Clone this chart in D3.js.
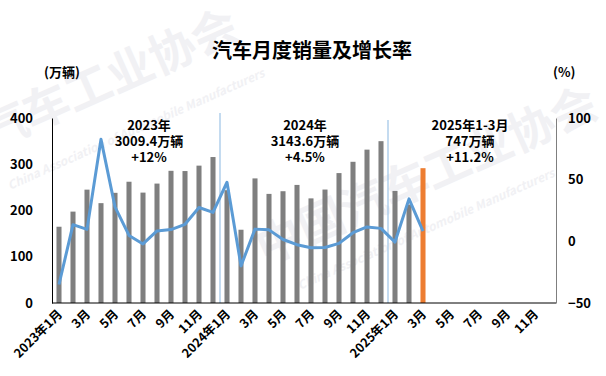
<!DOCTYPE html>
<html><head><meta charset="utf-8">
<script src="https://cdn.jsdelivr.net/npm/d3@7"></script>
<style>body{margin:0;background:#fff;}svg{display:block;font-family:"Noto Sans CJK SC","Noto Sans",sans-serif;}</style>
</head><body>
<svg id="c" width="606" height="376"></svg>
<script>
const months = [];
for (const y of [2023, 2024, 2025]) for (let m = 1; m <= 12; m++) months.push(m === 1 ? `${y}年1月` : `${m}月`);
const sales = [164.9,197.6,245.1,215.9,238.2,262.2,238.7,258.2,285.8,285.3,297.0,315.6,
               243.9,158.4,269.4,235.9,241.7,255.3,226.2,245.3,280.9,305.3,331.6,349.9,
               242.3,212.9,291.5];
const growth = [-35,13.5,9.7,82.7,27.9,4.8,-2.1,8.4,9.5,13.8,27.4,23.5,
                47.9,-19.9,9.9,9.3,1.5,-2.7,-5.2,-5.0,-1.7,7.0,11.7,10.5,
                -0.6,34.4,8.2];
const leftTicks = [0,100,200,300,400];
const rightTicks = [-50,0,50,100];
const annotations = [
  {x: 149, lines: ["2023年","3009.4万辆","+12%"]},
  {x: 305, lines: ["2024年","3143.6万辆","+4.5%"]},
  {x: 470, lines: ["2025年1-3月","747万辆","+11.2%"]}
];
const dividers = [12, 24];

const svg = d3.select("#c");
const L = 52, R = 556, T = 118, B = 303;
const x = d3.scaleBand().domain(d3.range(36)).range([L, R]).paddingInner(0.64).paddingOuter(0.32);
const yL = d3.scaleLinear().domain([0, 400]).range([B, T]);
const yR = d3.scaleLinear().domain([-50, 100]).range([B, T]);
const cx = i => x(i) + x.bandwidth() / 2;

// watermark
const wm = svg.append("g").attr("fill", "#f1f1f4").attr("font-weight", "bold");
wm.append("text").attr("transform", "translate(-10,150) rotate(-24)").attr("font-size", 46).text("汽车工业协会");
wm.append("text").attr("transform", "translate(10,190) rotate(-24)").attr("font-size", 12).attr("font-style","italic").text("China Association of Automobile Manufacturers");
wm.append("text").attr("transform", "translate(265,265) rotate(-24)").attr("font-size", 46).text("中国汽车工业协会");
wm.append("text").attr("transform", "translate(300,290) rotate(-24)").attr("font-size", 12).attr("font-style","italic").text("China Association of Automobile Manufacturers");

// title
svg.append("text").attr("x", 312).attr("y", 58).attr("text-anchor", "middle")
  .attr("font-size", 20).attr("font-weight", "bold").attr("fill", "#000").text("汽车月度销量及增长率");
svg.append("text").attr("x", 44).attr("y", 77).attr("font-size", 13).attr("font-weight", "bold").text("(万辆)");
svg.append("text").attr("x", 553).attr("y", 77).attr("font-size", 13).attr("font-weight", "bold").text("(%)");

// bars
svg.append("g").selectAll("rect").data(sales).join("rect")
  .attr("x", (d, i) => x(i)).attr("width", x.bandwidth())
  .attr("y", d => yL(d)).attr("height", d => yL(0) - yL(d))
  .attr("fill", (d, i) => i === sales.length - 1 ? "#ED7D31" : "#7F7F7F");

// dividers
svg.append("g").selectAll("line").data(dividers).join("line")
  .attr("x1", d => x(d) - x.step() * 0.32).attr("x2", d => x(d) - x.step() * 0.32)
  .attr("y1", (d, i) => i === 0 ? 113 : 120).attr("y2", B)
  .attr("stroke", "#9DC3E6").attr("stroke-width", 1.2);

// line
svg.append("path").datum(growth)
  .attr("d", d3.line().x((d, i) => cx(i)).y(d => yR(d)))
  .attr("fill", "none").attr("stroke", "#5B9BD5").attr("stroke-width", 3).attr("stroke-linejoin", "round");

// axes
const axL = svg.append("g").attr("transform", `translate(${L},0)`)
  .call(d3.axisLeft(yL).tickValues(leftTicks).tickSize(0).tickPadding(19));
axL.select(".domain").attr("stroke", "#000");
const axR = svg.append("g").attr("transform", `translate(${R},0)`)
  .call(d3.axisRight(yR).tickValues(rightTicks).tickSize(0).tickPadding(12));
axR.select(".domain").attr("stroke", "#7F7F7F");
[axL, axR].forEach(a => a.selectAll("text").attr("font-size", 13).attr("font-weight", "bold").attr("fill", "#000")
  .attr("font-family", '"Noto Sans CJK SC",sans-serif'));

const axB = svg.append("g").attr("transform", `translate(0,${B})`)
  .call(d3.axisBottom(x).tickValues(d3.range(0, 36, 2)).tickFormat(i => months[i]).tickSize(0).tickPadding(0));
axB.select(".domain").attr("stroke", "#000").attr("d", `M${L},0H${R}`);
axB.selectAll("text").attr("font-size", 12.5).attr("font-weight", "bold").attr("fill", "#000")
  .attr("font-family", '"Noto Sans CJK SC",sans-serif')
  .attr("text-anchor", "end").attr("dy", 0).attr("transform", "translate(4,12) rotate(-45)");

// annotations
const ag = svg.append("g");
annotations.forEach(a => {
  const t = ag.append("text").attr("text-anchor", "middle")
    .attr("font-size", 13).attr("font-weight", "bold").attr("fill", "#000");
  a.lines.forEach((l, j) => t.append("tspan").attr("x", a.x).attr("y", 130 + j * 16).text(l));
});
</script>
</body></html>
